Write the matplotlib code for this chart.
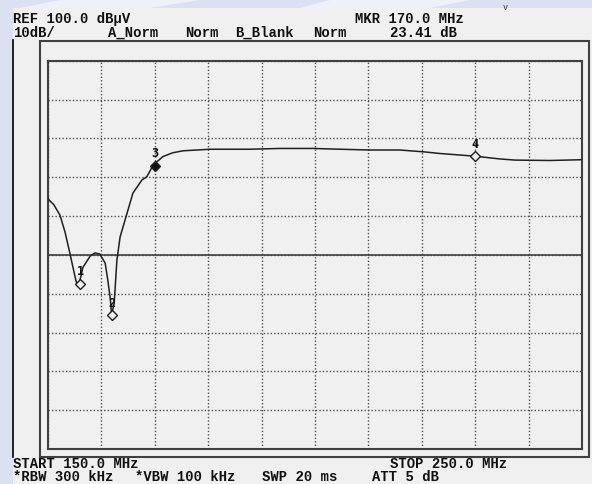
import matplotlib
matplotlib.use("Agg")
import matplotlib.pyplot as plt
from matplotlib.patches import Rectangle, Polygon

# trace: frequency (MHz) and level (dB, 100 = REF)
freq = [150.0, 151.1, 152.25, 153.2, 154.1, 155.2, 155.5, 155.9, 156.55, 157.9, 158.8, 159.7,
        160.7, 161.2, 161.7, 161.9, 162.4, 162.9, 163.5, 164.8, 165.9, 167.6,
        168.5, 169.7, 171.5, 173.4, 175.3, 177.9, 180.3, 187.8, 193.4, 199.6,
        204.7, 210.3, 215.9, 220.6, 223.4, 227.2, 230.0, 234.6, 237.5, 244.0, 250.0]
level = [64.4, 62.9, 60.2, 55.8, 50.4, 43.5, 42.2, 43.0, 46.8, 49.7, 50.5, 50.2,
         47.9, 43.5, 38.3, 34.5, 37.6, 48.6, 54.6, 60.7, 65.9, 69.3,
         70.1, 73.1, 75.3, 76.3, 76.8, 77.0, 77.2, 77.2, 77.4, 77.4,
         77.2, 77.0, 77.0, 76.5, 76.1, 75.7, 75.4, 74.7, 74.4, 74.3, 74.5]

mkr_id = ["1", "2", "3", "4"]
mkr_freq = [156.0, 161.9, 170.0, 230.0]
mkr_level = [42.6, 34.4, 73.0, 75.4]
active_mkr = "3"

header_top = [("REF 100.0 dB\u00b5V", 13), ("MKR 170.0 MHz", 355)]
header_mid = [("10dB/", 13), ("A_Norm", 108), ("Norm", 185), ("B_Blank", 235),
              ("Norm", 313), ("23.41 dB", 390)]
footer_top = [("START 150.0 MHz", 13), ("STOP 250.0 MHz", 390)]
footer_bot = [("*RBW 300 kHz", 13), ("*VBW 100 kHz", 135), ("SWP 20 ms", 262),
              ("ATT 5 dB", 372)]

W, H = 592, 484
fig = plt.figure(figsize=(W / 100, H / 100), dpi=100)
fig.patch.set_facecolor("#dbe1f3")

# background layer in pixel coordinates
bg = fig.add_axes([0, 0, 1, 1])
bg.set_xlim(0, W)
bg.set_ylim(H, 0)
bg.axis("off")
bg.add_patch(Polygon([[60, 0], [200, 0], [150, 8], [20, 8]], color="#eef1fa", lw=0))
bg.add_patch(Polygon([[330, 0], [470, 0], [430, 8], [300, 8]], color="#eef1fa", lw=0))
bg.add_patch(Rectangle((13, 8), W - 13, H - 8, color="#f0f0f0", lw=0))
bg.plot([13, 13], [40, 457], color="black", lw=1.2)
bg.add_patch(Rectangle((40, 41), 549, 416, fill=False, ec="#404040", lw=1.5))
bg.text(505, 10, "v", fontsize=6, ha="center", va="baseline", color="#303030",
        family="DejaVu Sans Mono")

fnt = dict(family="Liberation Mono", fontsize=10, weight="bold", color="#101010",
           va="baseline", ha="left")
for s, x in header_top:
    bg.text(x, 23, s, **fnt)
for s, x in header_mid:
    bg.text(x, 37, s, **fnt)
for s, x in footer_top:
    bg.text(x, 468.5, s, **fnt)
for s, x in footer_bot:
    bg.text(x, 481, s, **fnt)

# measurement screen
ax = fig.add_axes([48 / W, 1 - 449 / H, 534 / W, 388.3 / H])
ax.set_facecolor("#f0f0f0")
ax.set_xlim(150, 250)
ax.set_ylim(0, 100)
ax.set_xticks(range(150, 251, 10))
ax.set_yticks(range(0, 101, 10))
ax.tick_params(length=0, labelbottom=False, labelleft=False)
ax.grid(True, color="#505050", linestyle=(0, (1, 1.5)), lw=1)
ax.axhline(50, color="#404040", lw=1.2)
for sp in ax.spines.values():
    sp.set_color("#404040")
    sp.set_linewidth(1.5)

ax.plot(freq, level, color="#202020", lw=1.1, zorder=3)

for m, f, l in zip(mkr_id, mkr_freq, mkr_level):
    filled = m == active_mkr
    ax.plot(f, l, marker="D", ms=5.5, mec="#202020", mew=1,
            mfc="#101010" if filled else "#f0f0f0", zorder=4)
    ax.annotate(m, (f, l), xytext=(0, 4), textcoords="offset points",
                ha="center", va="bottom", fontsize=8.5, weight="bold",
                family="DejaVu Sans Mono", color="#101010", zorder=5)

fig.savefig("out.png", dpi=100, facecolor=fig.get_facecolor())
